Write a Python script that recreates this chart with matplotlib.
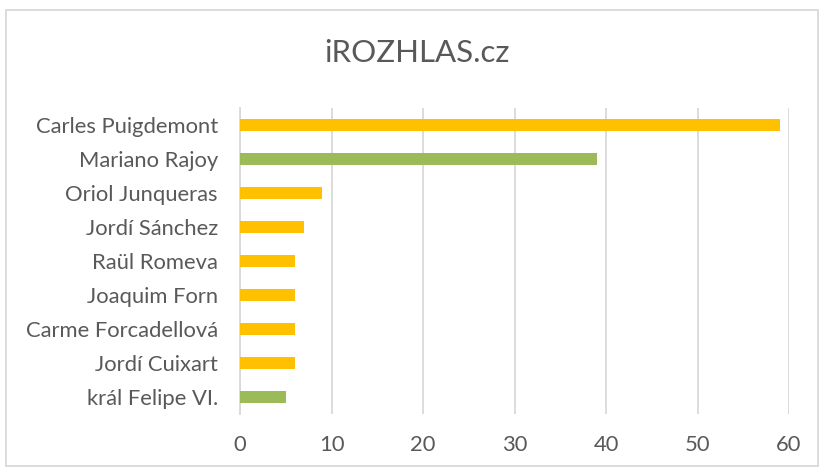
import matplotlib.pyplot as plt
from matplotlib.patches import Rectangle

names = ["Carles Puigdemont", "Mariano Rajoy", "Oriol Junqueras", "Jordí Sánchez",
         "Raül Romeva", "Joaquim Forn", "Carme Forcadellová", "Jordí Cuixart",
         "král Felipe VI."]
values = [59, 39, 9, 7, 6, 6, 6, 6, 5]
colors = ["#FFC000", "#9BBB59", "#FFC000", "#FFC000", "#FFC000",
          "#FFC000", "#FFC000", "#FFC000", "#9BBB59"]
xticks = [0, 10, 20, 30, 40, 50, 60]

plt.rcParams['font.family'] = ['Lato', 'DejaVu Sans']
txt = "#595959"
grid = "#D9D9D9"

fig = plt.figure(figsize=(8.2, 4.68), dpi=100)
ax = fig.add_axes([0.2927, 0.1154, 0.6695, 0.6538])

ypos = list(range(len(names)))
ax.barh(ypos, values, height=0.37, color=colors, zorder=3)
ax.set_ylim(len(names) - 0.5, -0.5)
ax.set_xlim(0, 60)
ax.set_xticks(xticks)
ax.set_yticks(ypos)
ax.set_yticklabels(names)
ax.xaxis.grid(True, color=grid, linewidth=1.3, zorder=0)
for s in ["top", "right", "bottom"]:
    ax.spines[s].set_visible(False)
ax.spines["left"].set_color(grid)
ax.spines["left"].set_linewidth(1.3)
ax.tick_params(axis="both", length=0, labelsize=15.8, colors=txt)
ax.tick_params(axis="x", pad=15)
ax.tick_params(axis="y", pad=16)

fig.text(0.509, 0.886, "iROZHLAS.cz", ha="center", va="center", fontsize=22.5, color=txt)
fig.patches.append(Rectangle((0.007, 0.004), 0.99, 0.975, transform=fig.transFigure,
                             fill=False, edgecolor=grid, linewidth=1.3))

fig.savefig("out.png", dpi=100)
